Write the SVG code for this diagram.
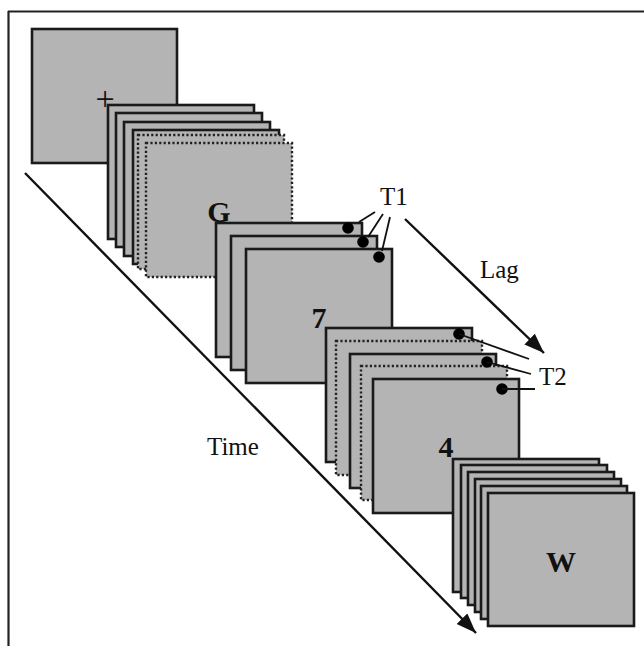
<svg xmlns="http://www.w3.org/2000/svg" width="644" height="646" viewBox="0 0 644 646">
<defs>
<style>
.f{fill:#b4b4b4;stroke:#1a1a1a;stroke-width:2.6}
.d{fill:#b4b4b4;stroke:#222;stroke-width:2.4;stroke-dasharray:2.2 2.2}
.dot{fill:#000}
.ln{stroke:#111;stroke-width:1.8;fill:none}
.ar{stroke:#111;stroke-width:2.4;fill:none}
.lbl{font-family:"Liberation Serif","Times New Roman",serif;font-size:25px;fill:#111}
.big{font-family:"Liberation Serif","Times New Roman",serif;font-size:30px;font-weight:bold;fill:#111;text-anchor:middle}
</style>
<marker id="ah" markerUnits="userSpaceOnUse" markerWidth="22" markerHeight="16" refX="20" refY="7.5" orient="auto">
<path d="M0,0 L20,7.5 L0,15 z" fill="#111"/>
</marker>
</defs>
<rect width="644" height="646" fill="#fff"/>
<g id="border">
<line x1="8" y1="11.5" x2="644" y2="11.5" stroke="#222" stroke-width="2.2"/>
<line x1="8.5" y1="11" x2="8.5" y2="646" stroke="#222" stroke-width="2.2"/>
</g>
<g id="fixation">
<rect class="f" x="32" y="29" width="145" height="134"/>
<text x="105" y="110" font-family="Liberation Serif, serif" font-size="34" text-anchor="middle" fill="#111">+</text>
</g>
<g id="stack-G">
<rect class="f" x="108" y="105" width="146" height="134"/>
<rect class="f" x="116" y="113" width="146" height="134"/>
<rect class="f" x="124" y="122" width="146" height="134"/>
<rect class="f" x="133" y="130" width="146" height="134"/>
<rect class="d" x="138" y="135" width="146" height="134"/>
<rect class="d" x="146" y="143" width="146" height="134"/>
<text class="big" x="219" y="222">G</text>
</g>
<g id="stack-7">
<rect class="f" x="216" y="223" width="146" height="134"/>
<rect class="f" x="231" y="236" width="146" height="134"/>
<rect class="f" x="246" y="249" width="146" height="134"/>
<circle class="dot" cx="348" cy="228" r="5.8"/>
<circle class="dot" cx="363" cy="242" r="5.8"/>
<circle class="dot" cx="379" cy="257" r="5.8"/>
<text class="big" x="319" y="328">7</text>
</g>
<g id="stack-4">
<rect class="f" x="326" y="328" width="146" height="134"/>
<rect class="d" x="336" y="341" width="146" height="134"/>
<rect class="f" x="350" y="354" width="146" height="134"/>
<rect class="d" x="361" y="366" width="146" height="134"/>
<rect class="f" x="373" y="379" width="146" height="134"/>
<circle class="dot" cx="459" cy="334" r="5.8"/>
<circle class="dot" cx="487" cy="362" r="5.8"/>
<circle class="dot" cx="502" cy="389" r="5.8"/>
<text class="big" x="446" y="457">4</text>
</g>
<g id="stack-W">
<rect class="f" x="453" y="459" width="146" height="133"/>
<rect class="f" x="461" y="465" width="146" height="133"/>
<rect class="f" x="468" y="472" width="146" height="133"/>
<rect class="f" x="475" y="479" width="146" height="133"/>
<rect class="f" x="481" y="486" width="146" height="133"/>
<rect class="f" x="488" y="493" width="146" height="133"/>
<text class="big" x="561" y="572">W</text>
</g>
<g id="connectors">
<line class="ln" x1="375" y1="212" x2="359" y2="222"/>
<line class="ln" x1="383" y1="214" x2="368" y2="237"/>
<line class="ln" x1="390" y1="217" x2="382" y2="251"/>
<line class="ln" x1="459" y1="334" x2="529" y2="359"/>
<line class="ln" x1="487" y1="362" x2="531" y2="374"/>
<line class="ln" x1="502" y1="389" x2="535" y2="389"/>
<line class="ar" x1="405" y1="219" x2="544" y2="353" marker-end="url(#ah)"/>
<line class="ar" x1="25" y1="173" x2="476" y2="633" marker-end="url(#ah)"/>
</g>
<g id="labels">
<text class="lbl" x="380" y="205">T1</text>
<text class="lbl" x="480" y="278">Lag</text>
<text class="lbl" x="539" y="385">T2</text>
<text class="lbl" x="207" y="455">Time</text>
</g>
</svg>
